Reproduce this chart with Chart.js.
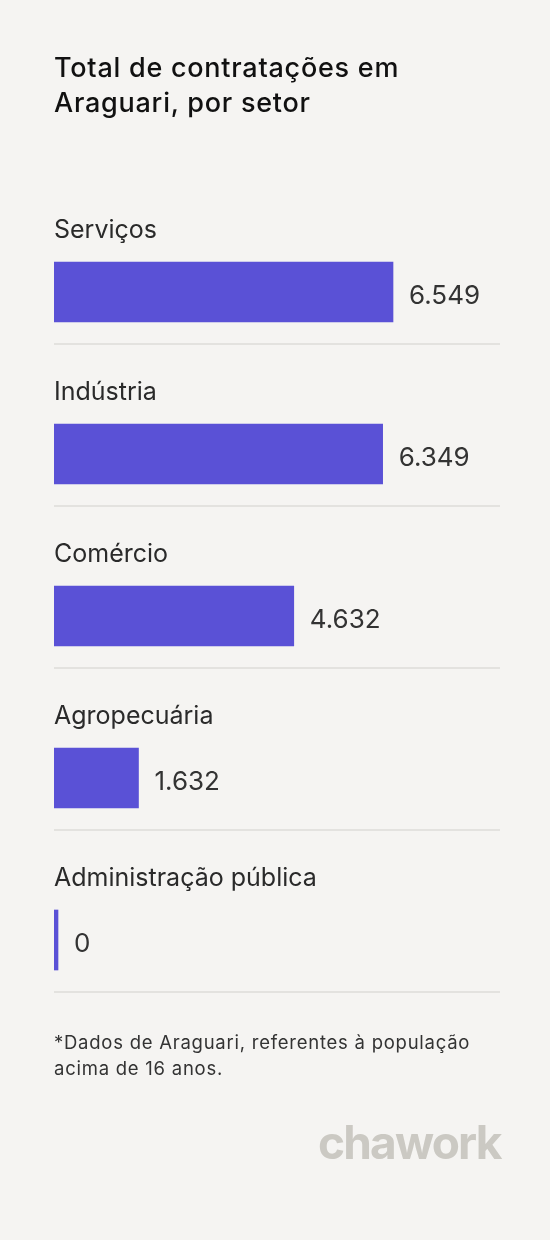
<!DOCTYPE html>
<html><head><meta charset="utf-8">
<script src="https://cdn.jsdelivr.net/npm/chart.js@4"></script>
<style>
html,body{margin:0;padding:0;background:#f5f4f2;width:550px;height:1240px;overflow:hidden;font-family:Inter,"Noto Sans",sans-serif}
#wrap{position:absolute;left:0;top:0;width:550px;height:1240px}
.t{position:absolute;color:#111}
</style></head><body>
<div id="wrap"><canvas id="c" width="550" height="1240"></canvas></div>
<div class="t" style="left:54px;top:50px;font-size:27px;line-height:35px;font-weight:500;letter-spacing:0.75px">Total de contratações em<br>Araguari, por setor</div>
<div class="t" style="left:54px;top:1029px;font-size:18.5px;line-height:26px;color:#333;letter-spacing:0.75px">*Dados de Araguari, referentes à população<br>acima de 16 anos.</div>
<div class="t" style="left:318px;top:1114px;font-size:46px;font-weight:700;color:#cbc9c3;letter-spacing:-1.8px">chawork</div>
<script>
const categories=["Serviços","Indústria","Comércio","Agropecuária","Administração pública"];
const values=[6549,6349,4632,1632,0];
const valueLabels=["6.549","6.349","4.632","1.632","0"];
const deco={id:'deco',afterDatasetsDraw(ch){
  const ctx=ch.ctx;const meta=ch.getDatasetMeta(0);
  meta.data.forEach((b,i)=>{
    ctx.save();
    ctx.textBaseline='middle';ctx.textAlign='left';
    ctx.fillStyle='#2a2a2a';ctx.font='400 25px Inter, "Noto Sans", sans-serif';
    ctx.fillText(categories[i],54,b.y-62);
    ctx.fillStyle='#333';ctx.font='400 26px Inter, "Noto Sans", sans-serif';
    ctx.fillText(valueLabels[i],b.x+16,b.y+4);
    ctx.strokeStyle='#dddcd8';ctx.lineWidth=1.5;
    ctx.beginPath();ctx.moveTo(54,b.y+52);ctx.lineTo(500,b.y+52);ctx.stroke();
    ctx.restore();
  });
}};
new Chart(document.getElementById('c'),{type:'bar',
data:{labels:categories,datasets:[{data:values,backgroundColor:'#5a51d6',barThickness:60,minBarLength:4,borderWidth:0}]},
options:{indexAxis:'y',responsive:false,animation:false,
layout:{padding:{left:54,right:50,top:211,bottom:219}},
plugins:{legend:{display:false},tooltip:{enabled:false}},
scales:{x:{display:false,min:0,max:8616},y:{display:false}}},
plugins:[deco]});
</script></body></html>
